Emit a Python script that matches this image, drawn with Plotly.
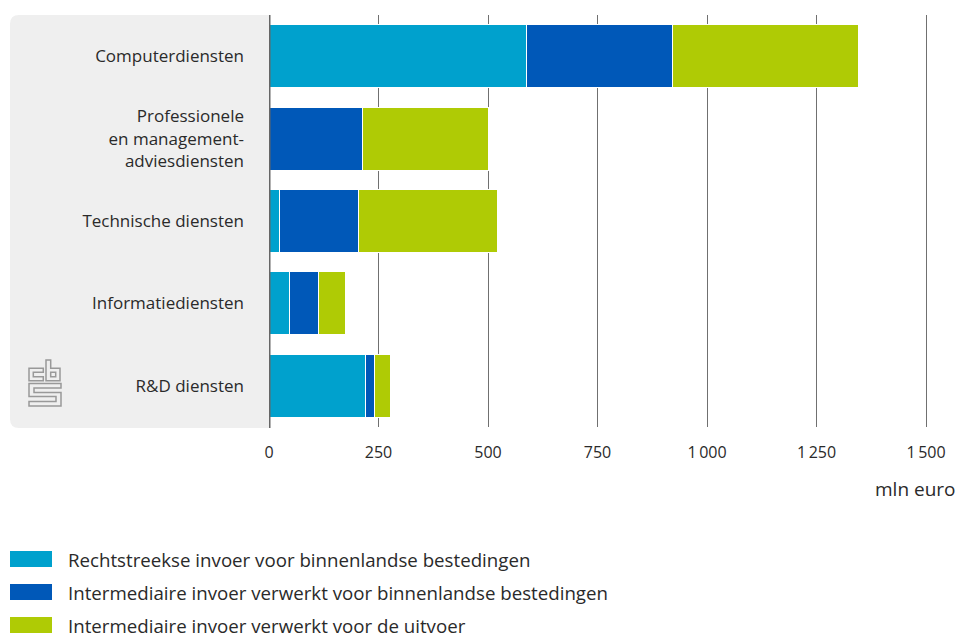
import plotly.graph_objects as go

# Invoer van diensten naar bestemming (mln euro)
categories = [
    "Computerdiensten",
    "Professionele<br>en management-<br>adviesdiensten",
    "Technische diensten",
    "Informatiediensten",
    "R&D diensten",
]
series_names = [
    "Rechtstreekse invoer voor binnenlandse bestedingen",
    "Intermediaire invoer verwerkt voor binnenlandse bestedingen",
    "Intermediaire invoer verwerkt voor de uitvoer",
]
direct_domestic = [587, 0, 23, 46, 220]
intermediate_domestic = [335, 213, 182, 66, 20]
intermediate_export = [424, 289, 316, 62, 38]
tick_values = [0, 250, 500, 750, 1000, 1250, 1500]
tick_labels = ["0", "250", "500", "750", "1\u2009000", "1\u2009250", "1\u2009500"]

colors = ["#00a1cd", "#0058b8", "#afcb05"]
series = [direct_domestic, intermediate_domestic, intermediate_export]

W, H = 959, 637
L, R, T, B = 269, 11, 15, 210
PW, PH = W - L - R, H - T - B
FONT = "Open Sans"
TXT = "#2a2a2a"


def px(x):
    return (x - L) / PW


def py(y):
    return 1 - (y - T) / PH


fig = go.Figure()
for name, vals, col in zip(series_names, series, colors):
    fig.add_trace(go.Bar(
        y=categories, x=vals, name=name, orientation="h",
        marker=dict(color=col, line=dict(color="white", width=1)),
        showlegend=False, hoverinfo="x+name",
    ))

shapes = []
# grey panel behind the category labels
x0, x1, y0, y1, r = 10, 269, 15, 428, 9
shapes.append(dict(
    type="path", xref="paper", yref="paper", layer="below",
    path=(f"M {px(x1)},{py(y0)} L {px(x0 + r)},{py(y0)} "
          f"Q {px(x0)},{py(y0)} {px(x0)},{py(y0 + r)} "
          f"L {px(x0)},{py(y1 - r)} Q {px(x0)},{py(y1)} {px(x0 + r)},{py(y1)} "
          f"L {px(x1)},{py(y1)} Z"),
    fillcolor="#efefef", line=dict(width=0),
))

# cbs logo mark
def poly(pts):
    return "M " + " L ".join(f"{px(a)},{py(b)}" for a, b in pts) + " Z"

logo_paths = [
    [(43.3, 368.3), (29, 368.3), (29, 380.7), (43.3, 380.7), (43.3, 376.7),
     (33.3, 376.7), (33.3, 372.3), (43.3, 372.3)],
    [(46, 360), (50.7, 360), (50.7, 368.3), (60, 368.3), (60, 380.7), (46, 380.7)],
    [(50.7, 372.3), (55.7, 372.3), (55.7, 376.7), (50.7, 376.7)],
    [(61, 383.5), (29, 383.5), (29, 396.5), (56, 396.5), (56, 401.5), (29, 401.5),
     (29, 406), (61, 406), (61, 392.5), (34, 392.5), (34, 388), (61, 388)],
]
for pts in logo_paths:
    shapes.append(dict(type="path", xref="paper", yref="paper", path=poly(pts),
                       line=dict(color="#999999", width=1.5), fillcolor="rgba(0,0,0,0)"))

# zero axis line
shapes.append(dict(type="line", xref="x", yref="paper", x0=0, x1=0, y0=py(428), y1=1,
                   line=dict(color="#666666", width=3), layer="above"))

annotations = [dict(
    text="mln euro", xref="paper", yref="paper", x=px(958), y=py(489),
    xanchor="right", yanchor="middle", showarrow=False,
    font=dict(family=FONT, size=19, color=TXT),
)]

# legend drawn as swatches with labels
for i, (name, col) in enumerate(zip(series_names, colors)):
    cy = 559 + i * 33
    shapes.append(dict(type="rect", xref="paper", yref="paper",
                       x0=px(10), x1=px(52), y0=py(cy - 8), y1=py(cy + 8),
                       fillcolor=col, line=dict(width=0)))
    annotations.append(dict(text=name, xref="paper", yref="paper", x=px(66), y=py(cy),
                            xanchor="left", yanchor="middle", showarrow=False,
                            font=dict(family=FONT, size=18.7, color=TXT)))

fig.update_layout(
    width=W, height=H, barmode="stack", bargap=0.235,
    margin=dict(l=L, r=R, t=T, b=B),
    paper_bgcolor="white", plot_bgcolor="white",
    font=dict(family=FONT, size=16, color=TXT),
    xaxis=dict(range=[0, (W - L - R) / (926 - 269) * 1500], tickvals=tick_values,
               ticktext=tick_labels, showgrid=True, gridcolor="#707070", gridwidth=1,
               zeroline=False, showline=False, ticks="", ticklabelstandoff=14,
               tickfont=dict(family=FONT, size=16, color=TXT), fixedrange=True),
    yaxis=dict(autorange="reversed", showgrid=False, zeroline=False, showline=False,
               ticks="", ticklabelstandoff=24,
               tickfont=dict(family=FONT, size=17, color=TXT), fixedrange=True),
    shapes=shapes, annotations=annotations,
)

fig.write_html("out.html")
